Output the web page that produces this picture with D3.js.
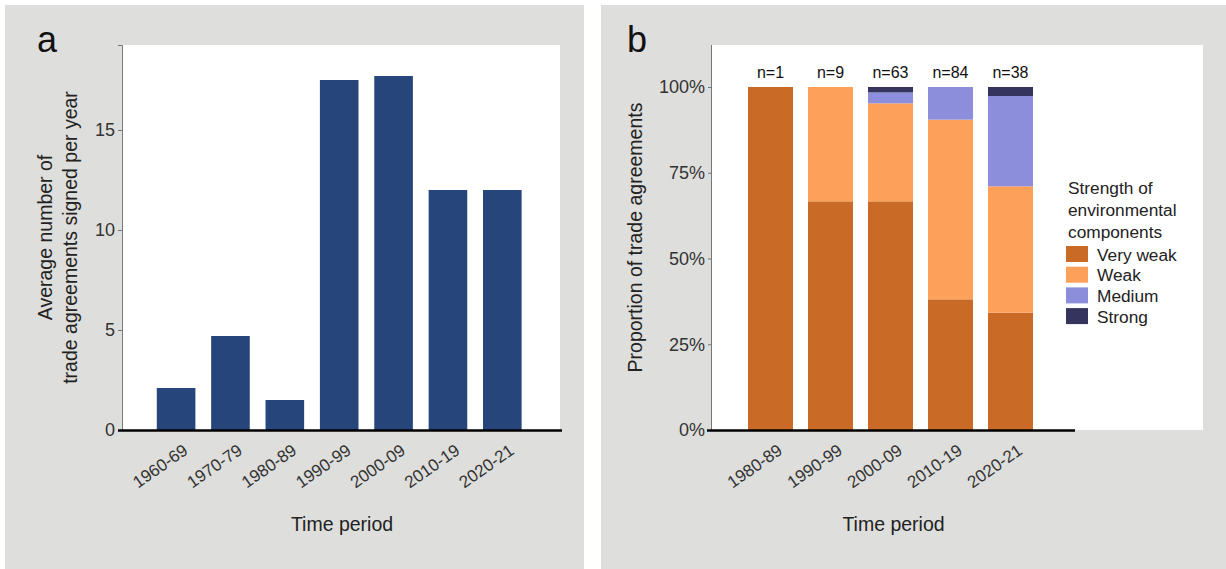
<!DOCTYPE html>
<html><head><meta charset="utf-8">
<script src="https://cdn.jsdelivr.net/npm/d3@7"></script>
<style>
body{margin:0;background:#fff;}
svg{display:block;font-family:"Liberation Sans",Arial,Helvetica,sans-serif;}
</style></head>
<body>
<svg id="chart" width="1226" height="569"></svg>
<script>
// ---- Data ----
const periodsA = ["1960-69","1970-79","1980-89","1990-99","2000-09","2010-19","2020-21"];
const avgPerYear = [2.1, 4.7, 1.5, 17.5, 17.7, 12.0, 12.0];
const ticksA = [0, 5, 10, 15];

const periodsB = ["1980-89","1990-99","2000-09","2010-19","2020-21"];
const strengths = ["Very weak","Weak","Medium","Strong"];
const veryWeak = [1, 6, 42, 32, 13];
const weak     = [0, 3, 18, 44, 14];
const medium   = [0, 0, 2, 8, 10];
const strong   = [0, 0, 1, 0, 1];
const nLabels  = ["n=1","n=9","n=63","n=84","n=38"];
const ticksB = [0, 0.25, 0.5, 0.75, 1];

const FONT = "Liberation Sans, Arial, sans-serif";
const svg = d3.select("#chart");
const grey = "#dededc";

// panel backgrounds
svg.append("rect").attr("x",5).attr("y",5).attr("width",579).attr("height",564).attr("fill",grey);
svg.append("rect").attr("x",601).attr("y",5).attr("width",625).attr("height",564).attr("fill",grey);

// ---------------- Panel a ----------------
const aL = 122, aR = 562, aT = 45, aB = 430;
svg.append("rect").attr("x",aL).attr("y",aT).attr("width",560-aL).attr("height",aB-aT).attr("fill","#fff");
const xA = d3.scaleBand().domain(periodsA).range([148.9, 529.5]).paddingInner(0.29).paddingOuter(0.145);
const yA = d3.scaleLinear().domain([0, 19.25]).range([aB, aT]);

svg.append("g").selectAll("rect").data(periodsA).join("rect")
  .attr("x", d => xA(d)).attr("width", xA.bandwidth())
  .attr("y", (d,i) => yA(avgPerYear[i])).attr("height", (d,i) => aB - yA(avgPerYear[i]))
  .attr("fill", "#26457a");

const gyA = svg.append("g").attr("transform", `translate(${aL},0)`)
  .call(d3.axisLeft(yA).tickValues(ticksA).tickSize(4).tickPadding(3).tickFormat(d3.format("d")));
gyA.select(".domain").attr("stroke","#777").attr("stroke-width",1);
gyA.selectAll(".tick line").attr("stroke","#777");
gyA.selectAll(".tick text").attr("font-size",18).attr("fill","#333").attr("font-family",FONT);

svg.append("line").attr("x1",118).attr("x2",aR).attr("y1",aB+0.5).attr("y2",aB+0.5).attr("stroke","#000").attr("stroke-width",2.5);

const gxA = svg.append("g").attr("transform", `translate(0,${aB})`)
  .call(d3.axisBottom(xA).tickSize(0).tickPadding(0));
gxA.select(".domain").remove();
gxA.selectAll(".tick text")
  .attr("font-size",17).attr("fill","#333").attr("font-family",FONT)
  .attr("text-anchor","end").attr("dy",0)
  .attr("transform","translate(13,23) rotate(-35)");

svg.append("text").attr("x",(aL+aR)/2).attr("y",531).attr("text-anchor","middle")
  .attr("font-size",19.5).attr("fill","#222").text("Time period");
const tA = svg.append("text").attr("transform",`translate(0,${(aT+aB)/2}) rotate(-90)`)
  .attr("text-anchor","middle").attr("font-size",19.5).attr("fill","#222");
tA.append("tspan").attr("x",0).attr("y",52).text("Average number of");
tA.append("tspan").attr("x",0).attr("y",77).text("trade agreements signed per year");
svg.append("text").attr("x",37).attr("y",52).attr("font-size",36).attr("fill","#111").text("a");

// ---------------- Panel b ----------------
const bL = 712, bR = 1075, bT = 45, bB = 430, bWhiteR = 1203;
svg.append("rect").attr("x",bL).attr("y",bT).attr("width",bWhiteR-bL).attr("height",bB-bT).attr("fill","#fff");
const xB = d3.scaleBand().domain(periodsB).range([740.5, 1040.5]).paddingInner(0.25).paddingOuter(0.125);
const yB = d3.scaleLinear().domain([0, 1.1224]).range([bB, bT]);
const colors = d3.scaleOrdinal().domain(strengths).range(["#c96a27","#fda15a","#8d8edb","#34345f"]);

const table = periodsB.map((p,i) => {
  const tot = veryWeak[i]+weak[i]+medium[i]+strong[i];
  return {period:p, "Very weak":veryWeak[i]/tot, "Weak":weak[i]/tot, "Medium":medium[i]/tot, "Strong":strong[i]/tot};
});
const stack = d3.stack().keys(strengths)(table);
svg.append("g").selectAll("g").data(stack).join("g").attr("fill", d => colors(d.key))
  .selectAll("rect").data(d => d).join("rect")
  .attr("x", d => xB(d.data.period)).attr("width", xB.bandwidth())
  .attr("y", d => yB(d[1])).attr("height", d => yB(d[0]) - yB(d[1]));

svg.append("g").selectAll("text").data(periodsB).join("text")
  .attr("x", d => xB(d) + xB.bandwidth()/2).attr("y", 78)
  .attr("text-anchor","middle").attr("font-size",16).attr("fill","#111")
  .text((d,i) => nLabels[i]);

const gyB = svg.append("g").attr("transform", `translate(${bL},0)`)
  .call(d3.axisLeft(yB).tickValues(ticksB).tickSize(4).tickPadding(3).tickFormat(d3.format(".0%")));
gyB.select(".domain").attr("stroke","#777").attr("stroke-width",1).attr("d",`M-0.5,${bB}V${bT}`);
gyB.selectAll(".tick line").attr("stroke","#777");
gyB.selectAll(".tick text").attr("font-size",18).attr("fill","#333").attr("font-family",FONT);

svg.append("line").attr("x1",707).attr("x2",bR).attr("y1",bB+0.5).attr("y2",bB+0.5).attr("stroke","#000").attr("stroke-width",2.5);

const gxB = svg.append("g").attr("transform", `translate(0,${bB})`)
  .call(d3.axisBottom(xB).tickSize(0).tickPadding(0));
gxB.select(".domain").remove();
gxB.selectAll(".tick text")
  .attr("font-size",17).attr("fill","#333").attr("font-family",FONT)
  .attr("text-anchor","end").attr("dy",0)
  .attr("transform","translate(13,23) rotate(-35)");

svg.append("text").attr("x",(bL+bR)/2).attr("y",531).attr("text-anchor","middle")
  .attr("font-size",19.5).attr("fill","#222").text("Time period");
svg.append("text").attr("transform",`translate(642,${(bT+bB)/2}) rotate(-90)`)
  .attr("text-anchor","middle").attr("font-size",19.5).attr("fill","#222").text("Proportion of trade agreements");
svg.append("text").attr("x",627).attr("y",52).attr("font-size",36).attr("fill","#111").text("b");

// legend
const lg = svg.append("g");
const titleLines = ["Strength of","environmental","components"];
lg.selectAll("text.t").data(titleLines).join("text").attr("class","t")
  .attr("x",1068).attr("y",(d,i) => 194 + i*21.8).attr("font-size",17.3).attr("fill","#222").text(d => d);
const rows = lg.selectAll("g.r").data(strengths).join("g").attr("class","r")
  .attr("transform",(d,i) => `translate(1066,${246 + i*20.7})`);
rows.append("rect").attr("width",22).attr("height",16).attr("fill", d => colors(d));
rows.append("text").attr("x",31).attr("y",14.5).attr("font-size",17.3).attr("fill","#222").text(d => d);
</script>
</body></html>
